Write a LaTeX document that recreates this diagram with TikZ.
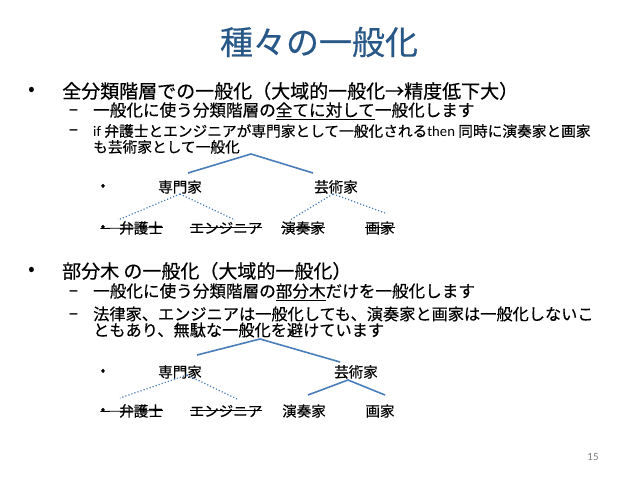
\documentclass[tikz,border=0pt]{standalone}
\usepackage{fontspec}
\setmainfont{Noto Sans CJK JP}[FakeBold=0.4,AutoFakeBold=0.4]
\newfontfamily\lat{Carlito}
\definecolor{titleblue}{HTML}{285888}
\definecolor{lineblue}{HTML}{4A7EBB}
\begin{document}
\begin{tikzpicture}[x=1pt,y=-1pt,
  txt/.style={anchor=west,inner sep=0pt},
  lvl1/.style={txt,font=\fontsize{19}{21}\selectfont},
  lvl2/.style={txt,font=\fontsize{16.6}{18}\selectfont},
  lvl2s/.style={txt,font=\fontsize{14.7}{17}\selectfont},
  lvl2m/.style={txt,font=\fontsize{16.2}{18}\selectfont},
  dashmark/.style={anchor=base west,inner sep=0pt,font=\lat\fontsize{22}{24}\selectfont},
  lbl/.style={inner sep=0pt,font=\fontsize{14.5}{16}\selectfont},
  solidline/.style={draw=lineblue,line width=1.6pt},
  dotline/.style={draw=lineblue,line width=1.2pt,dotted},
  strike/.style={draw=black,line width=0.8pt}]
\useasboundingbox[fill=white] (0,0) rectangle (638,479);
\node[inner sep=0pt,text=titleblue,font=\fontsize{33}{36}\selectfont] (title) at (319,42) {種々の一般化};
% section 1
\node[lvl1] (b1) at (28,91) {•};
\node[lvl1] (t1) at (62,91) {全分類階層での一般化（大域的一般化→精度低下大）};
\node[lvl2] (t2) at (93,111) {一般化に使う分類階層の\underline{全てに対して}一般化します};
\node[dashmark] (d1) at ([xshift=-25pt]t2.base west) {–};
\node[lvl2s] (t3) at (93,131) {{\lat if} 弁護士とエンジニアが専門家として一般化される{\lat then} 同時に演奏家と画家};
\node[dashmark] (d2) at ([xshift=-25pt]t3.base west) {–};
\node[lvl2s] (t3b) at (93,147) {も芸術家として一般化};
% tree 1
\node[lbl] (p1) at (103,187) {•};
\node[lbl] (sm1) at (180,187) {専門家};
\node[lbl] (gj1) at (336,187) {芸術家};
\node[lbl] (q1) at (103,228) {•};
\node[lbl] (bg1) at (141,228) {弁護士};
\node[lbl] (en1) at (226,228) {エンジニア};
\node[lbl] (es1) at (303,228) {演奏家};
\node[lbl] (ga1) at (380,228) {画家};
\coordinate (top1) at (251,154);
\coordinate (l1) at (188,173);
\coordinate (r1) at (313,173);
\draw[solidline] (l1) -- (top1) -- (r1);
\coordinate (sm1b) at (180,194);
\coordinate (gj1b) at (333,194);
\coordinate (bg1t) at (118,220);
\coordinate (en1t) at (235,220);
\coordinate (es1t) at (290,220);
\coordinate (ga1t) at (385,213);
\draw[dotline] (sm1b) -- (bg1t);
\draw[dotline] (sm1b) -- (en1t);
\draw[dotline] (gj1b) -- (es1t);
\draw[dotline] (gj1b) -- (ga1t);
\draw[strike] (q1.west) ++(0,0.5) -- ([yshift=0.5pt]bg1.east);
\draw[strike] ([yshift=0.5pt]en1.west) -- ([yshift=0.5pt]en1.east);
\draw[strike] ([yshift=0.5pt]es1.west) -- ([yshift=0.5pt]es1.east);
\draw[strike] ([yshift=0.5pt]ga1.west) -- ([yshift=0.5pt]ga1.east);
% section 2
\node[lvl1] (b2) at (28,271) {•};
\node[lvl1] (t4) at (62,271) {部分木 の一般化（大域的一般化）};
\node[lvl2] (t5) at (93,292) {一般化に使う分類階層の\underline{部分木}だけを一般化します};
\node[dashmark] (d3) at ([xshift=-25pt]t5.base west) {–};
\node[lvl2m] (t6) at (93,314) {法律家、エンジニアは一般化しても、演奏家と画家は一般化しないこ};
\node[dashmark] (d4) at ([xshift=-25pt]t6.base west) {–};
\node[lvl2m] (t6b) at (93,330) {ともあり、無駄な一般化を避けています};
% tree 2
\node[lbl] (p2) at (103,372) {•};
\node[lbl] (sm2) at (180,372) {専門家};
\node[lbl] (gj2) at (356,372) {芸術家};
\node[lbl] (q2) at (103,411) {•};
\node[lbl] (bg2) at (141,411) {弁護士};
\node[lbl] (en2) at (226,411) {エンジニア};
\node[lbl] (es2) at (304,411) {演奏家};
\node[lbl] (ga2) at (380,411) {画家};
\coordinate (top2) at (260,339);
\coordinate (l2) at (197,355);
\coordinate (r2) at (340,362);
\draw[solidline] (l2) -- (top2) -- (r2);
\coordinate (gj2b) at (348,380);
\coordinate (es2t) at (308,395);
\coordinate (ga2t) at (385,395);
\draw[solidline] (es2t) -- (gj2b) -- (ga2t);
\coordinate (sm2b) at (187,375);
\coordinate (bg2t) at (120,398);
\coordinate (en2t) at (237,399);
\draw[dotline] (sm2b) -- (bg2t);
\draw[dotline] (sm2b) -- (en2t);
\draw[strike] (q2.west) ++(0,0.5) -- ([yshift=0.5pt]bg2.east);
\draw[strike] ([yshift=0.5pt]en2.west) -- ([yshift=0.5pt]en2.east);
% page number
\node[inner sep=0pt,text=gray,font=\lat\fontsize{11}{12}\selectfont] (pg) at (593,457) {15};
\end{tikzpicture}
\end{document}
